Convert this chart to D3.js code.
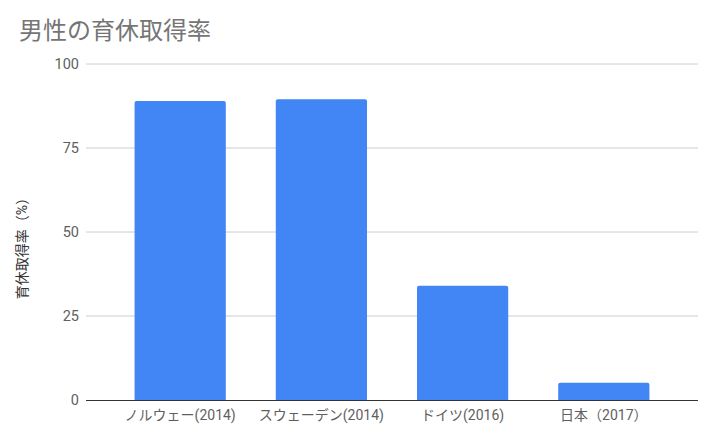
<!DOCTYPE html>
<html><head><meta charset="utf-8">
<script src="https://cdn.jsdelivr.net/npm/d3@7"></script>
<style>body{margin:0;background:#fff}svg{display:block;font-family:Roboto,"Noto Sans CJK JP",sans-serif}</style>
</head><body><svg id="c" width="706" height="435"></svg>
<script>
const categories = ["ノルウェー(2014)", "スウェーデン(2014)", "ドイツ(2016)", "日本（2017）"];
const values = [89, 89.5, 34, 5.14];
const yTicks = [0, 25, 50, 75, 100];
const title = "男性の育休取得率";
const yLabel = "育休取得率（%）";

(function () {
const svg = d3.select("#c");
const pL = 86, pR = 698, pT = 64, pB = 400;
const x = d3.scaleBand().domain(categories).range([pL, pR]).paddingInner(0.354).paddingOuter(0.344);
const y = d3.scaleLinear().domain([0, 100]).range([pB, pT]);

svg.append("text").attr("x", 19).attr("y", 39).attr("fill", "#757575")
  .style("font-size", "24px").text(title);

const g = svg.append("g");
g.selectAll("line.grid").data(yTicks.filter(d => d > 0)).join("line")
  .attr("x1", pL).attr("x2", pR).attr("y1", d => y(d)).attr("y2", d => y(d))
  .attr("stroke", "#cccccc").attr("stroke-width", 1);
g.selectAll("text.tick").data(yTicks).join("text")
  .attr("x", 79).attr("y", d => y(d)).attr("dy", "0.35em").attr("text-anchor", "end")
  .attr("fill", "#5f5f5f").style("font-size", "14.5px").text(d => d);

g.selectAll("path.bar").data(values).join("path")
  .attr("fill", "#4285f4")
  .attr("d", (d, i) => {
    const x0 = x(categories[i]), w = x.bandwidth(), y0 = y(d), r = 2;
    return `M${x0},${pB}V${y0 + r}Q${x0},${y0} ${x0 + r},${y0}H${x0 + w - r}Q${x0 + w},${y0} ${x0 + w},${y0 + r}V${pB}Z`;
  });

g.append("line").attr("x1", pL).attr("x2", pR).attr("y1", pB + 0.5).attr("y2", pB + 0.5)
  .attr("stroke", "#333").attr("stroke-width", 1.2);

g.selectAll("text.cat").data(categories).join("text")
  .attr("x", d => x(d) + x.bandwidth() / 2).attr("y", 420).attr("text-anchor", "middle")
  .attr("fill", "#5f5f5f").style("font-size", "14px").text(d => d);

svg.append("text").attr("transform", "translate(27,245) rotate(-90)").attr("text-anchor", "middle")
  .attr("fill", "#333").style("font-size", "14px").text(yLabel);
})();
</script></body></html>
